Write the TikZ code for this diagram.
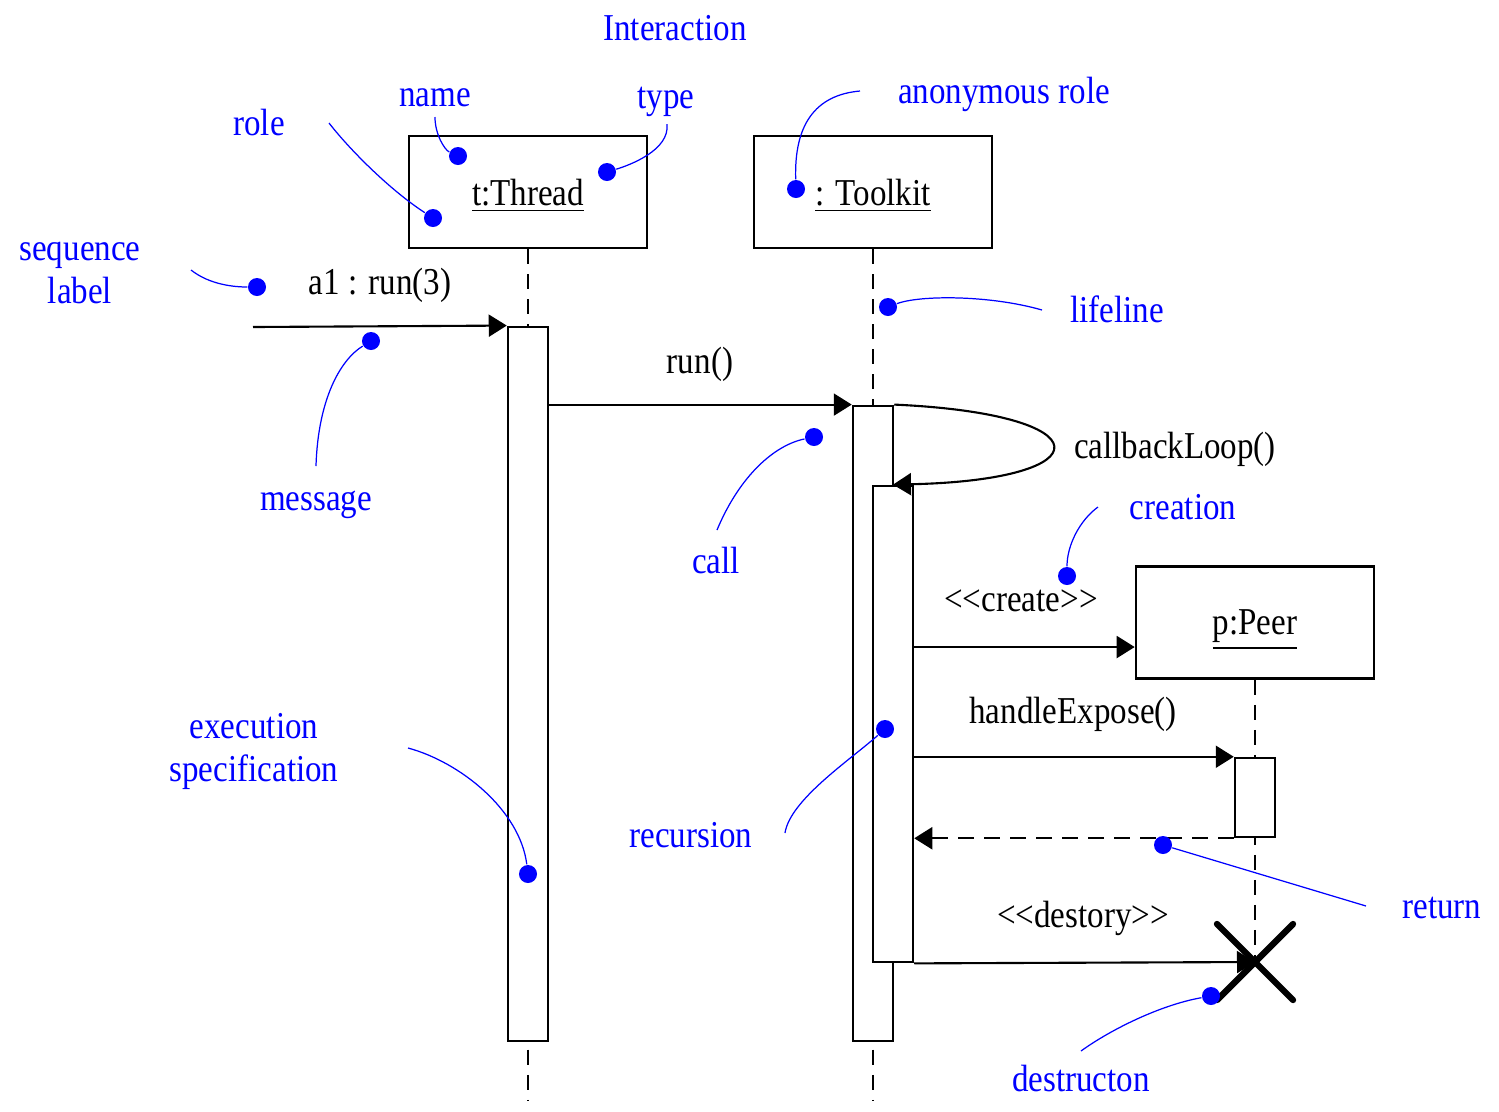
\documentclass[tikz,border=0pt]{standalone}
\usepackage{fontspec}
\setmainfont{Liberation Serif}[FakeStretch=0.87]
\usetikzlibrary{arrows.meta}

\tikzset{
  obj/.style={draw, line width=0.7pt, minimum width=2.38cm, minimum height=1.12cm, inner sep=0pt, text depth=0pt},
  bar/.style={draw, fill=white, line width=0.7pt, minimum width=0.4cm, inner sep=0pt},
  life/.style={line width=0.6pt, dash pattern=on 0.15cm off 0.1cm},
  msg/.style={line width=0.6pt, -{Triangle[length=0.18cm, width=0.22cm]}},
  ret/.style={msg, dash pattern=on 0.16cm off 0.1cm},
  tag/.style={anchor=base},
  note/.style={text=blue, anchor=base},
  dot/.style={circle, fill=blue, inner sep=0pt, minimum size=0.18cm},
  lead/.style={blue, line width=0.35pt},
  cross/.style={line width=1.8pt, line cap=round}
}

\begin{document}
\begin{tikzpicture}[x=0.01cm, y=-0.01cm, font=\fontsize{10.8}{12.2}\selectfont]
        \useasboundingbox (0,0) rectangle (1499,1111);
        % objects and lifelines
        \node[obj] (thread) at (528,192) {\underline{t:Thread}};
        \node[obj] (toolkit) at (873,192) {\underline{: Toolkit}};
        \node[obj] (peer) at (1255,622.5) {\underline{p:Peer}};
        \coordinate (tend) at (528,1100);
        \coordinate (kend) at (873,1100);
        \coordinate (kill) at (peer.south |- 0,962);
        \draw[life] (thread.south) -- (tend);
        \draw[life] (toolkit.south) -- (kend);
        \draw[life] (peer.south) -- (kill);
        % execution bars
        \node[bar, minimum height=7.14cm] (tact) at (528,684) {};
        \node[bar, minimum height=6.35cm] (kact) at (873,723.5) {};
        \node[bar, minimum height=4.76cm] (rec) at (893,724) {};
        \node[bar, minimum height=0.79cm] (pact) at (1255,797.5) {};
        % messages
        \coordinate (src) at (253,327);
        \coordinate (cr) at ([yshift=-0.245cm]peer.west);
        \draw[msg] (src) -- (tact.north west);
        \draw[msg] (tact.east |- kact.north) -- (kact.north west);
        \draw[msg] (kact.north east) .. controls (1105,414) and (1105,480) .. (rec.north);
        \draw[msg] (rec.east |- cr) -- (cr);
        \draw[msg] (rec.east |- pact.north) -- (pact.north west);
        \draw[ret] (pact.south west) -- (rec.east |- pact.south);
        \draw[msg] (rec.south east) -- (kill);
        \draw[cross] ([shift={(-0.38cm,0.38cm)}]kill) -- ([shift={(0.38cm,-0.38cm)}]kill);
        \draw[cross] ([shift={(-0.38cm,-0.38cm)}]kill) -- ([shift={(0.38cm,0.38cm)}]kill);
        \node[tag] (a1) at (380,294) {a1 : run(3)};
        \node[tag] (run) at (700,373) {run()};
        \node[tag] (loop) at (1175,458) {callbackLoop()};
        \node[tag] (create) at (1021,611) {<{}<create>{}>};
        \node[tag] (expose) at (1073,723) {handleExpose()};
        \node[tag] (destroy) at (1083,927) {<{}<destory>{}>};
        % notes
        \node[note] (interaction) at (675,40) {Interaction};
        \node[note] (lname) at (435,106) {name};
        \node[note] (ltype) at (666,108) {type};
        \node[note] (lrole) at (259,135) {role};
        \node[note] (lanon) at (1004,103) {anonymous role};
        \node[note, align=center] (lseq) at (80,303) {sequence\\label};
        \node[note] (llife) at (1117,322) {lifeline};
        \node[note] (lmsg) at (316,510) {message};
        \node[note] (lcall) at (716,573) {call};
        \node[note] (lcreate) at (1183,519) {creation};
        \node[note, align=center] (lexec) at (254,781) {execution\\specification};
        \node[note] (lrec) at (691,847) {recursion};
        \node[note] (lret) at (1442,918) {return};
        \node[note] (ldes) at (1081,1091) {destructon};
        \foreach \n/\x/\y in {name/458/156, type/607/172, role/433/218, anon/796/189, seq/257/287, msg/371/341, life/888/307, call/814/437, create/1067/576, exec/528/874, rec/885/729, ret/1163/845, des/1211/996}{
        \node[dot] (d\n) at (\x,\y) {};
        }
        \foreach \n/\x/\y in {name/435/117, type/667/124, role/329/123, anon/860/91, seq/191/270, msg/316/466, life/1042/310, call/717/530, create/1098/507, exec/408/748, rec/785/833, ret/1366/906, des/1081/1051}{
        \coordinate (t\n) at (\x,\y);
        }
        \draw[lead] (tname) .. controls (435,135) and (445,150) .. (dname);
        \draw[lead] (ttype) .. controls (670,150) and (630,165) .. (dtype);
        \draw[lead] (trole) .. controls (350,150) and (390,190) .. (drole);
        \draw[lead] (tanon) .. controls (815,95) and (794,125) .. (danon);
        \draw[lead] (tseq) .. controls (210,285) and (235,287) .. (dseq);
        \draw[lead] (tmsg) .. controls (318,400) and (340,360) .. (dmsg);
        \draw[lead] (dlife) .. controls (920,295) and (990,295) .. (tlife);
        \draw[lead] (tcall) .. controls (740,475) and (775,445) .. (dcall);
        \draw[lead] (tcreate) .. controls (1080,520) and (1067,545) .. (dcreate);
        \draw[lead] (texec) .. controls (460,762) and (520,810) .. (dexec);
        \draw[lead] (trec) .. controls (790,800) and (850,760) .. (drec);
        \draw[lead] (dret) -- (tret);
        \draw[lead] (tdes) .. controls (1110,1030) and (1160,1005) .. (ddes);
\end{tikzpicture}
\end{document}
